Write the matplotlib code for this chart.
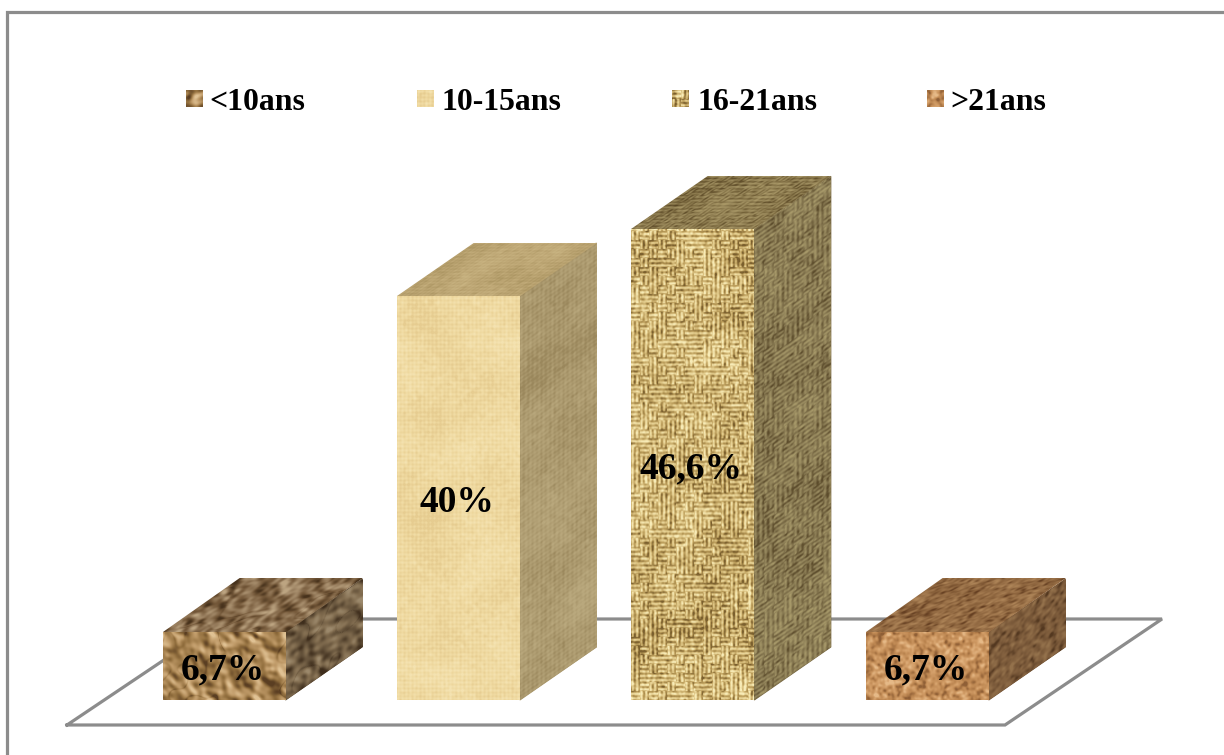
import numpy as np
import matplotlib
matplotlib.use('Agg')
import matplotlib.pyplot as plt
from matplotlib.colors import LinearSegmentedColormap
from matplotlib.transforms import Affine2D

# Chart data
categories = ['<10ans', '10-15ans', '16-21ans', '>21ans']
values = [6.7, 40, 46.6, 6.7]
value_labels = ['6,7%', '40%', '46,6%', '6,7%']

FRAME = '#8c8c8c'
PX_PER_UNIT = 10.1     # vertical pixels for one percent
BAR_STEP = 234.4       # pixels between bars
BAR_LEFT = 162.5
BAR_BASE = 700
BAR_W = 123
DEPTH_X = 76.5
DEPTH_Y = 53

plt.rcParams['font.family'] = ['Liberation Serif', 'DejaVu Serif']


# Smoothed noise, only used for the surface textures of the boxes
def blur_noise(h, w, sigma, seed):
    rng = np.random.default_rng(seed)
    white = rng.standard_normal((h, w))
    fy = np.fft.fftfreq(h)[:, None]
    fx = np.fft.fftfreq(w)[None, :]
    kernel = np.exp(-2 * (np.pi * sigma) ** 2 * (fx ** 2 + fy ** 2))
    out = np.fft.ifft2(np.fft.fft2(white) * kernel).real
    return out / out.std()


def rescale(a):
    lo, hi = np.percentile(a, [1, 99])
    return np.clip((a - lo) / (hi - lo), 0, 1)


def leather(h, w, seed):
    base = blur_noise(h, w, 6, seed) + 0.7 * blur_noise(h, w, 2.5, seed + 1)
    gy, gx = np.gradient(base)
    creases = np.exp(-(blur_noise(h, w, 7, seed + 2) / 0.12) ** 2)
    return rescale(base * 0.2 + (gx + gy) * 3.6 - creases * 1.1)


def linen(h, w, seed):
    yy, xx = np.mgrid[0:h, 0:w]
    threads = np.sin(xx * 2 * np.pi / 4) + np.sin(yy * 2 * np.pi / 4)
    return rescale(threads * 0.4 + 0.35 * blur_noise(h, w, 14, seed) + 0.3 * blur_noise(h, w, 1.2, seed + 1))


def burlap(h, w, seed):
    cell = 9
    yy, xx = np.mgrid[0:h, 0:w]
    rng = np.random.default_rng(seed)
    flip = rng.random((h // cell + 2, w // cell + 2)) > 0.8
    checker = (yy // cell + xx // cell) % 2 == 0
    across = checker ^ flip[yy // cell, xx // cell]
    stripes = np.where(across, np.sin(yy * 2 * np.pi / 4.5), np.sin(xx * 2 * np.pi / 4.5))
    return rescale(stripes + 0.5 * blur_noise(h, w, 1, seed + 1) + 0.25 * blur_noise(h, w, 12, seed + 2))


def cork(h, w, seed):
    return rescale(blur_noise(h, w, 1.3, seed) + 0.2 * blur_noise(h, w, 8, seed + 1))


textures = [leather, linen, burlap, cork]

front_cmaps = [
    ['#5a3e22', '#93703f', '#bf9a68', '#e0c294'],
    ['#e6cc90', '#efd9a0', '#f4e2b0'],
    ['#7a5f2e', '#b89a58', '#e0c888', '#f8ecb8'],
    ['#8f5f36', '#bb8550', '#d19c66', '#e6ba88'],
]
top_cmaps = [
    ['#47321c', '#75593a', '#9a8060', '#bda582'],
    ['#ab9562', '#bda674', '#c9b482'],
    ['#5a4826', '#7f6d42', '#98875a', '#ab9a68'],
    ['#653f22', '#88603a', '#9c734a', '#ae8558'],
]
side_cmaps = [
    ['#3e2d1c', '#625039', '#826d50', '#9c896c'],
    ['#9a875c', '#ad9b70', '#baa97e'],
    ['#5c4c2c', '#7c6d48', '#94865c', '#a89a6a'],
    ['#533820', '#735335', '#846240', '#94724c'],
]


# Paint a texture on the parallelogram given by a corner and two edge vectors
def draw_face(ax, tex, cmap, corner, edge_u, edge_v, size, seed):
    h, w = size
    img = tex(max(h, 8), max(w, 8), seed)
    aff = Affine2D.from_values(edge_u[0], edge_u[1], edge_v[0], edge_v[1], corner[0], corner[1])
    ax.imshow(img, cmap=cmap, vmin=0, vmax=1, extent=(0, 1, 0, 1), origin='lower', aspect='auto',
              interpolation='bilinear', transform=aff + ax.transData, zorder=3)


fig = plt.figure(figsize=(12.24, 7.55), dpi=100)

# Overlay in pixel units for frame, floor and legend
page = fig.add_axes([0, 0, 1, 1])
page.set_xlim(0, 1224)
page.set_ylim(755, 0)
page.axis('off')

# Outer frame (right and bottom edges are cut by the image)
page.plot([7, 7, 1224], [755, 12, 12], color=FRAME, lw=2.3, solid_joinstyle='miter')

# Floor of the 3D chart
page.plot([67, 1005, 1162, 225, 67], [725, 725, 619, 619, 725], color=FRAME, lw=2.3, solid_joinstyle='miter')

# Bars in data units: x is the category index, y the percentage
ax = fig.add_axes([0, 0, 1, 1])
ax.patch.set_alpha(0)
ax.axis('off')
xlim = (-BAR_LEFT / BAR_STEP, (1224 - BAR_LEFT) / BAR_STEP)
ylim = ((BAR_BASE - 755) / PX_PER_UNIT, BAR_BASE / PX_PER_UNIT)
width = BAR_W / BAR_STEP
dx = DEPTH_X / BAR_STEP
dy = DEPTH_Y / PX_PER_UNIT

for i, (val, lab) in enumerate(zip(values, value_labels)):
    tex = textures[i]
    front = LinearSegmentedColormap.from_list(f'front{i}', front_cmaps[i])
    top = LinearSegmentedColormap.from_list(f'top{i}', top_cmaps[i])
    side = LinearSegmentedColormap.from_list(f'side{i}', side_cmaps[i])
    h_px = int(val * PX_PER_UNIT)
    seed = 10 * i + 3

    # Solid shape behind the faces, hides the seam between top and side
    ax.fill([i + width, i + width + dx, i + width + dx, i + width],
            [0, dy, val + dy, val], color=side_cmaps[i][1], lw=0.8, zorder=2)

    # Side, top, then front so the front edge stays clean
    draw_face(ax, tex, side, (i + width, 0), (dx, dy), (0, val), (h_px, 70), seed + 1)
    draw_face(ax, tex, top, (i, val), (width, 0), (dx, dy), (70, BAR_W), seed + 2)
    draw_face(ax, tex, front, (i, 0), (width, 0), (0, val), (h_px, BAR_W), seed)

    ax.annotate(lab, (i + width / 2, val / 2), xytext=(-1, -3), textcoords='offset points',
                ha='center', va='center', fontsize=27, fontweight='bold', color='black', zorder=5)

ax.set_xlim(xlim)
ax.set_ylim(ylim)

# Legend drawn by hand to keep the swatch textures
swatch_x = [186, 417, 672, 927]
label_x = [209, 442, 697, 950]
for i, name in enumerate(categories):
    cmap = LinearSegmentedColormap.from_list(f'leg{i}', front_cmaps[i])
    img = textures[i](17, 17, 50 + i)
    page.imshow(img, cmap=cmap, vmin=0, vmax=1, aspect='auto', interpolation='bilinear',
                extent=(swatch_x[i], swatch_x[i] + 17, 107, 90), zorder=4)
    page.text(label_x[i], 102, name, ha='left', va='center', fontsize=22.9, fontweight='bold', color='black')
page.set_xlim(0, 1224)
page.set_ylim(755, 0)

fig.savefig('out.png', dpi=100, facecolor='white')
